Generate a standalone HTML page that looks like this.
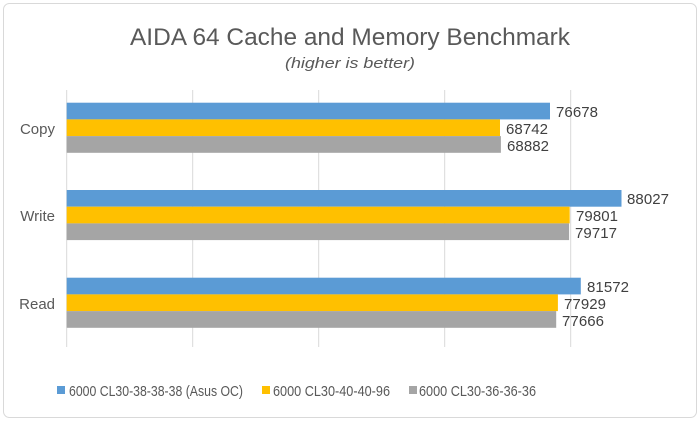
<!DOCTYPE html>
<html><head><style>
body{margin:0;background:#fff;}
svg{display:block;font-family:"Liberation Sans",sans-serif;}
</style></head><body>
<svg width="700" height="422" xmlns="http://www.w3.org/2000/svg">
<rect x="3.5" y="3.5" width="693" height="414" rx="6" fill="#fff" stroke="#d9d9d9"/>
<text x="130" y="45" font-size="24" fill="#595959" textLength="440" lengthAdjust="spacingAndGlyphs">AIDA 64 Cache and Memory Benchmark</text>
<text x="285" y="68" font-size="15" font-style="italic" fill="#595959" textLength="130" lengthAdjust="spacingAndGlyphs">(higher is better)</text>
<g stroke="#d9d9d9" stroke-width="1">
<line x1="66.7" y1="90" x2="66.7" y2="347"/>
<line x1="192.7" y1="90" x2="192.7" y2="347"/>
<line x1="318.7" y1="90" x2="318.7" y2="347"/>
<line x1="444.7" y1="90" x2="444.7" y2="347"/>
<line x1="570.7" y1="90" x2="570.7" y2="347"/>
</g>
<g>
<rect x="66.7" y="102.7" width="483.3" height="16.7" fill="#5b9bd5"/>
<rect x="66.7" y="119.4" width="433.3" height="16.7" fill="#ffc000"/>
<rect x="66.7" y="136.1" width="434.2" height="16.7" fill="#a5a5a5"/>
<rect x="66.7" y="190" width="554.8" height="16.7" fill="#5b9bd5"/>
<rect x="66.7" y="206.7" width="503" height="16.7" fill="#ffc000"/>
<rect x="66.7" y="223.4" width="502.4" height="16.7" fill="#a5a5a5"/>
<rect x="66.7" y="277.7" width="514.1" height="16.7" fill="#5b9bd5"/>
<rect x="66.7" y="294.4" width="491.2" height="16.7" fill="#ffc000"/>
<rect x="66.7" y="311.1" width="489.5" height="16.7" fill="#a5a5a5"/>
</g>
<g font-size="15" fill="#404040">
<text x="556" y="117" textLength="42">76678</text>
<text x="506" y="134" textLength="42">68742</text>
<text x="507" y="151" textLength="42">68882</text>
<text x="627" y="204" textLength="42">88027</text>
<text x="576" y="221" textLength="42">79801</text>
<text x="575" y="238" textLength="42">79717</text>
<text x="587" y="292" textLength="42">81572</text>
<text x="564" y="309" textLength="42">77929</text>
<text x="562" y="326" textLength="42">77666</text>
</g>
<g font-size="15" fill="#595959" text-anchor="end">
<text x="55" y="134">Copy</text>
<text x="55" y="221">Write</text>
<text x="55" y="309">Read</text>
</g>
<g font-size="15" fill="#595959">
<rect x="57" y="386" width="8" height="8" fill="#5b9bd5"/>
<text x="69" y="396" textLength="174" lengthAdjust="spacingAndGlyphs">6000 CL30-38-38-38 (Asus OC)</text>
<rect x="262" y="386" width="8" height="8" fill="#ffc000"/>
<text x="273" y="396" textLength="117" lengthAdjust="spacingAndGlyphs">6000 CL30-40-40-96</text>
<rect x="409" y="386" width="8" height="8" fill="#a5a5a5"/>
<text x="419" y="396" textLength="117" lengthAdjust="spacingAndGlyphs">6000 CL30-36-36-36</text>
</g>
</svg>
</body></html>
